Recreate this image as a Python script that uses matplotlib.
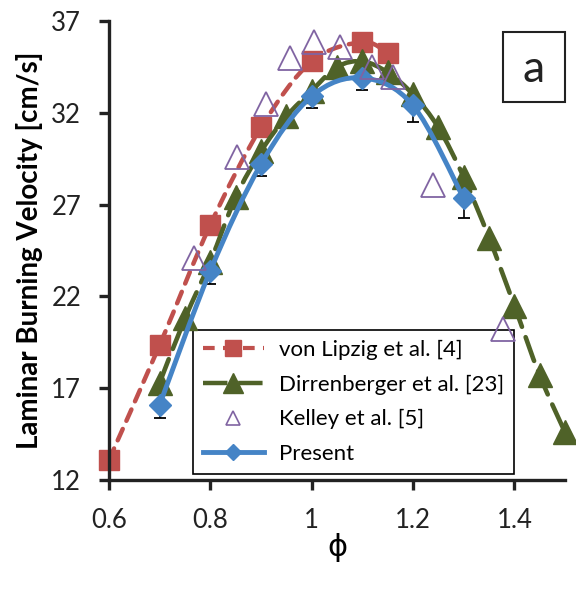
import numpy as np
import matplotlib
matplotlib.use("Agg")
import matplotlib.pyplot as plt
from matplotlib.path import Path
from matplotlib.patches import PathPatch, Rectangle
from matplotlib.lines import Line2D

plt.rcParams['font.family'] = ['Lato', 'DejaVu Sans']

# data
lipzig_phi = [0.6, 0.7, 0.8, 0.9, 1.0, 1.1, 1.15]
lipzig_su = [13.1, 19.35, 25.9, 31.2, 34.8, 35.85, 35.25]

dirr_phi = [0.7, 0.75, 0.8, 0.85, 0.9, 0.95, 1.0, 1.05, 1.1, 1.15, 1.2,
            1.25, 1.3, 1.35, 1.4, 1.45, 1.5]
dirr_su = [17.3, 20.8, 23.9, 27.4, 29.9, 31.8, 33.2, 34.5, 34.8, 34.2, 33.0,
           31.2, 28.5, 25.2, 21.5, 17.7, 14.6]

kelley_phi = [0.767, 0.853, 0.91, 0.957, 1.005, 1.055, 1.12, 1.16, 1.24, 1.378]
kelley_su = [24.1, 29.6, 32.5, 35.0, 35.85, 35.6, 34.5, 33.95, 28.05, 20.2]

present_phi = [0.7, 0.8, 0.9, 1.0, 1.1, 1.2, 1.3]
present_su = [16.1, 23.4, 29.2, 32.9, 33.9, 32.4, 27.35]
present_err = [0.7, 0.7, 0.65, 0.65, 0.65, 0.9, 1.1]

labels = ['von Lipzig et al. [4]', 'Dirrenberger et al. [23]',
          'Kelley et al. [5]', 'Present']

red = '#C0504D'
green = '#4F6228'
purple = '#8064A2'
blue = '#4584C6'


def smooth_path(xs, ys):
    # Excel-like smoothed line: Catmull-Rom segments as cubic Beziers
    p = np.column_stack([xs, ys]).astype(float)
    n = len(p)
    verts = [p[0]]
    codes = [Path.MOVETO]
    for i in range(n - 1):
        p0 = p[i - 1] if i > 0 else p[i]
        p1 = p[i]
        p2 = p[i + 1]
        p3 = p[i + 2] if i + 2 < n else p[i + 1]
        c1 = p1 + (p2 - p0) / 6.0
        c2 = p2 - (p3 - p1) / 6.0
        verts += [c1, c2, p2]
        codes += [Path.CURVE4] * 3
    return Path(verts, codes)


fig = plt.figure(figsize=(5.76, 5.90), dpi=100)
ax = fig.add_axes([109 / 576, 1 - 480 / 590, 456 / 576, 459 / 590])

red_ls = (0, (2.8, 2.0))
green_ls = (0, (5.5, 2.4))

ax.add_patch(PathPatch(smooth_path(lipzig_phi, lipzig_su), fill=False,
                       edgecolor=red, lw=3.2, linestyle=red_ls,
                       capstyle='round', zorder=2))
ax.plot(lipzig_phi, lipzig_su, 's', color=red, ms=14, clip_on=False, zorder=2.1)

ax.add_patch(PathPatch(smooth_path(dirr_phi, dirr_su), fill=False,
                       edgecolor=green, lw=3.3, linestyle=green_ls,
                       capstyle='round', zorder=2.2))
ax.plot(dirr_phi, dirr_su, '^', color=green, ms=17.5, clip_on=False, zorder=2.3)

ax.errorbar(present_phi, present_su,
            yerr=[present_err, np.zeros(len(present_err))],
            fmt='none', ecolor='black', elinewidth=1.2, capsize=4.5,
            capthick=1.3, zorder=2.35)
ax.add_patch(PathPatch(smooth_path(present_phi, present_su), fill=False,
                       edgecolor=blue, lw=3.5, capstyle='round', zorder=2.4))
ax.plot(present_phi, present_su, 'D', color=blue, ms=11.5, clip_on=False,
        zorder=2.5)

ax.plot(kelley_phi, kelley_su, '^', mfc='none', mec=purple, mew=1.3, ms=17,
        clip_on=False, zorder=2.6)

ax.set_xlim(0.6, 1.5)
ax.set_ylim(12, 37)
ax.set_xticks([0.6, 0.8, 1.0, 1.2, 1.4])
ax.set_xticklabels(['0.6', '0.8', '1', '1.2', '1.4'])
ax.set_yticks([12, 17, 22, 27, 32, 37])

for s in ['top', 'right']:
    ax.spines[s].set_visible(False)
for s in ['left', 'bottom']:
    ax.spines[s].set_linewidth(2.4)
    ax.spines[s].set_color('#222222')
ax.tick_params(direction='out', length=7, width=2.4, color='#222222',
               labelsize=18.5, labelcolor='#222222')
ax.tick_params(axis='y', pad=13)
ax.tick_params(axis='x', pad=13)

ax.set_ylabel('Laminar Burning Velocity [cm/s]', fontsize=20,
              fontweight='bold', color='black', labelpad=6)
ax.set_xlabel('ϕ', fontsize=22, family='DejaVu Sans', labelpad=0)

handles = [
    Line2D([], [], color=red, lw=3.0, linestyle=red_ls, marker='s', ms=12),
    Line2D([], [], color=green, lw=3.2, linestyle=green_ls, marker='^', ms=14),
    Line2D([], [], linestyle='none', marker='^', mfc='none', mec=purple,
           mew=1.2, ms=10),
    Line2D([], [], color=blue, lw=3.5, marker='D', ms=8),
]
leg = ax.legend(handles, labels, loc='lower left',
                bbox_to_anchor=(0.184, 0.013), fontsize=16, frameon=True,
                fancybox=False, edgecolor='black', framealpha=1,
                handlelength=2.75, handletextpad=0.66, labelspacing=0.66,
                borderpad=0.45, borderaxespad=0, numpoints=1)
leg.get_frame().set_linewidth(1.2)
leg.set_zorder(1.5)

ax.add_patch(Rectangle((0.864, 0.8235), 0.136, 0.1525, transform=ax.transAxes,
                       fill=False, edgecolor='#222222', lw=1.5, clip_on=False))
ax.text(0.932, 0.867, 'a', transform=ax.transAxes, ha='center', va='baseline',
        fontsize=32, color='#222222')

fig.savefig('out.png', dpi=100)
